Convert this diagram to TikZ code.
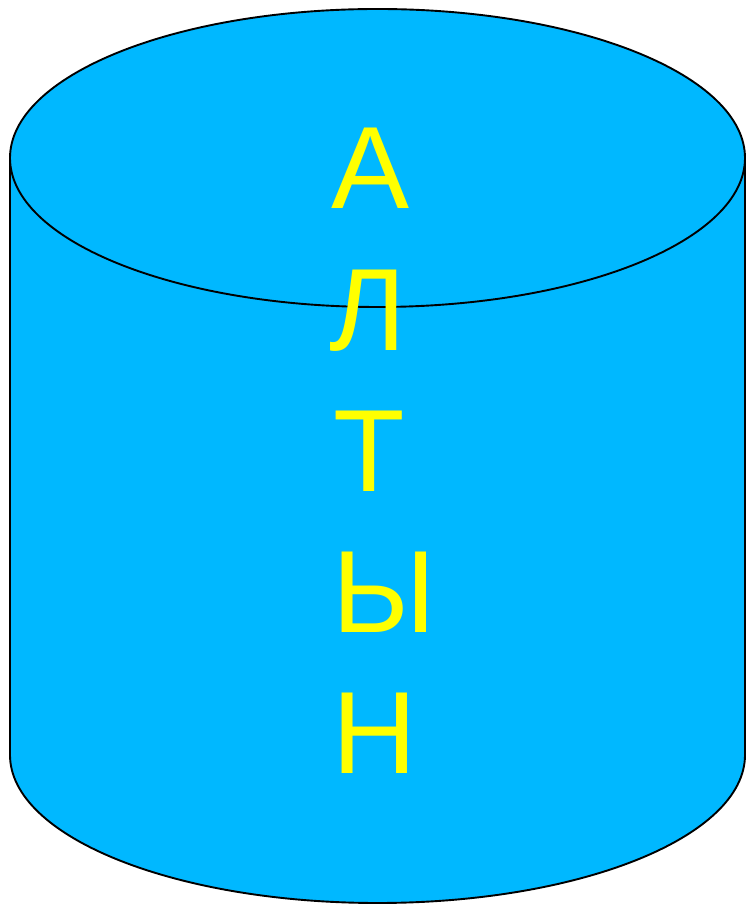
\documentclass[tikz,border=0pt]{standalone}
\usepackage{fontspec}
\setmainfont{Liberation Sans}
\definecolor{cyl}{HTML}{00B8FF}
\definecolor{txt}{HTML}{FFFF00}
\begin{document}
\begin{tikzpicture}[x=1pt,y=1pt,
  cylline/.style={draw=black,line width=1.9pt,fill=cyl},
  letter/.style={anchor=base,text=txt,inner sep=0pt,font=\fontsize{117}{117}\selectfont}]
\useasboundingbox (0,0) rectangle (746,905);
% body
\path[cylline] (10,747) -- (10,150) arc[start angle=180,end angle=360,x radius=367.5,y radius=148] -- (745,747) -- cycle;
% top ellipse
\path[cylline] (377.5,747) ellipse[x radius=367.5,y radius=149];
\node[letter] (a1) at (371,696) {А};
\node[letter] (a2) at (368,554) {Л};
\node[letter] (a3) at (369,413) {Т};
\node[letter] (a4) at (384,272) {Ы};
\node[letter] (a5) at (375,131) {Н};
\end{tikzpicture}
\end{document}
